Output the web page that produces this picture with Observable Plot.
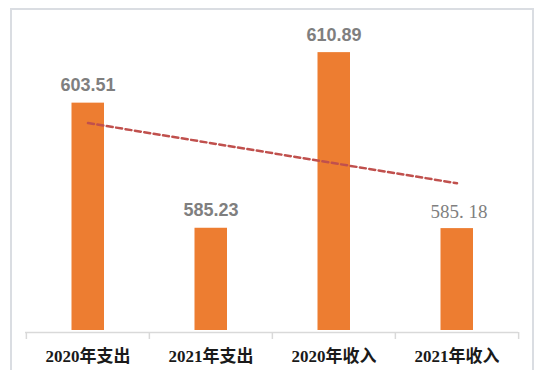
<!DOCTYPE html>
<html>
<head>
<meta charset="utf-8">
<script src="https://cdn.jsdelivr.net/npm/d3@7"></script>
<script src="https://cdn.jsdelivr.net/npm/@observablehq/plot@0.6"></script>
<style>
  html, body { margin: 0; padding: 0; background: #fff; }
  #wrap { position: relative; width: 540px; height: 376px; }
  #frame { position: absolute; left: 10px; top: 8px; width: 524px; height: 362px;
           border: 2px solid #DADDE2; border-bottom: none; box-sizing: border-box; pointer-events: none; }
</style>
</head>
<body>
<div id="wrap"><div id="frame"></div></div>
<script>
const categories = ["2020年支出", "2021年支出", "2020年收入", "2021年收入"];
const values = [603.51, 585.23, 610.89, 585.18];
const valueLabels = ["603.51", "585.23", "610.89", "585. 18"];
const yDomain = [570, 615];

const data = categories.map((c, i) => ({cat: c, value: values[i], label: valueLabels[i], i}));

// least-squares linear trend over the category index
const n = values.length;
const mx = d3.mean(values, (_, i) => i);
const my = d3.mean(values);
const slope = d3.sum(values, (v, i) => (i - mx) * (v - my)) / d3.sum(values, (_, i) => (i - mx) ** 2);
const trend = [0, n - 1].map(i => ({cat: categories[i], value: my + slope * (i - mx)}));

const W = 540, mL = 25, mR = 22;
const bw = (W - mL - mR) / categories.length;

const boundaries = categories.map(c => ({cat: c, dx: -bw / 2}))
  .concat([{cat: categories[n - 1], dx: bw / 2}]);

const chart = Plot.plot({
  width: W,
  height: 376,
  marginLeft: mL,
  marginRight: mR,
  marginTop: 24,
  marginBottom: 44,
  x: {domain: categories, padding: 0, axis: null},
  y: {type: "linear", domain: yDomain, axis: null},
  style: {background: "transparent"},
  marks: [
    Plot.barY(data, {x: "cat", y1: yDomain[0], y2: "value", fill: "#ED7D31", insetLeft: 45.5, insetRight: 45, insetBottom: 2}),
    Plot.ruleY([yDomain[0]], {stroke: "#D9D9D9", strokeWidth: 1.5}),
    ...boundaries.map(b => Plot.ruleX([b], {x: "cat", y1: yDomain[0], y2: yDomain[0], insetBottom: -7, dx: b.dx, stroke: "#D9D9D9", strokeWidth: 1.5})),
    Plot.line(trend, {x: "cat", y: "value", stroke: "#C0504D", strokeWidth: 2.5, strokeDasharray: "6,3.5"}),
    Plot.text(data.filter(d => d.i < 3), {x: "cat", y: "value", text: "label", dy: -12, lineAnchor: "bottom",
      fill: "#7F7F7F", fontSize: 18, fontWeight: "bold", fontFamily: "Liberation Sans, Arial, sans-serif"}),
    Plot.text(data.filter(d => d.i >= 3), {x: "cat", y: "value", text: "label", dy: -11, dx: 2, lineAnchor: "bottom",
      fill: "#7F7F7F", fontSize: 19, fontFamily: "Liberation Serif, serif"}),
    Plot.text(data, {x: "cat", y: yDomain[0], text: "cat", dy: 24, lineAnchor: "middle",
      fill: "#1A1A1A", fontSize: 17, fontWeight: "bold", fontFamily: "Liberation Serif, 'Noto Sans CJK SC', serif"})
  ]
});
document.getElementById("wrap").prepend(chart);
</script>
</body>
</html>
